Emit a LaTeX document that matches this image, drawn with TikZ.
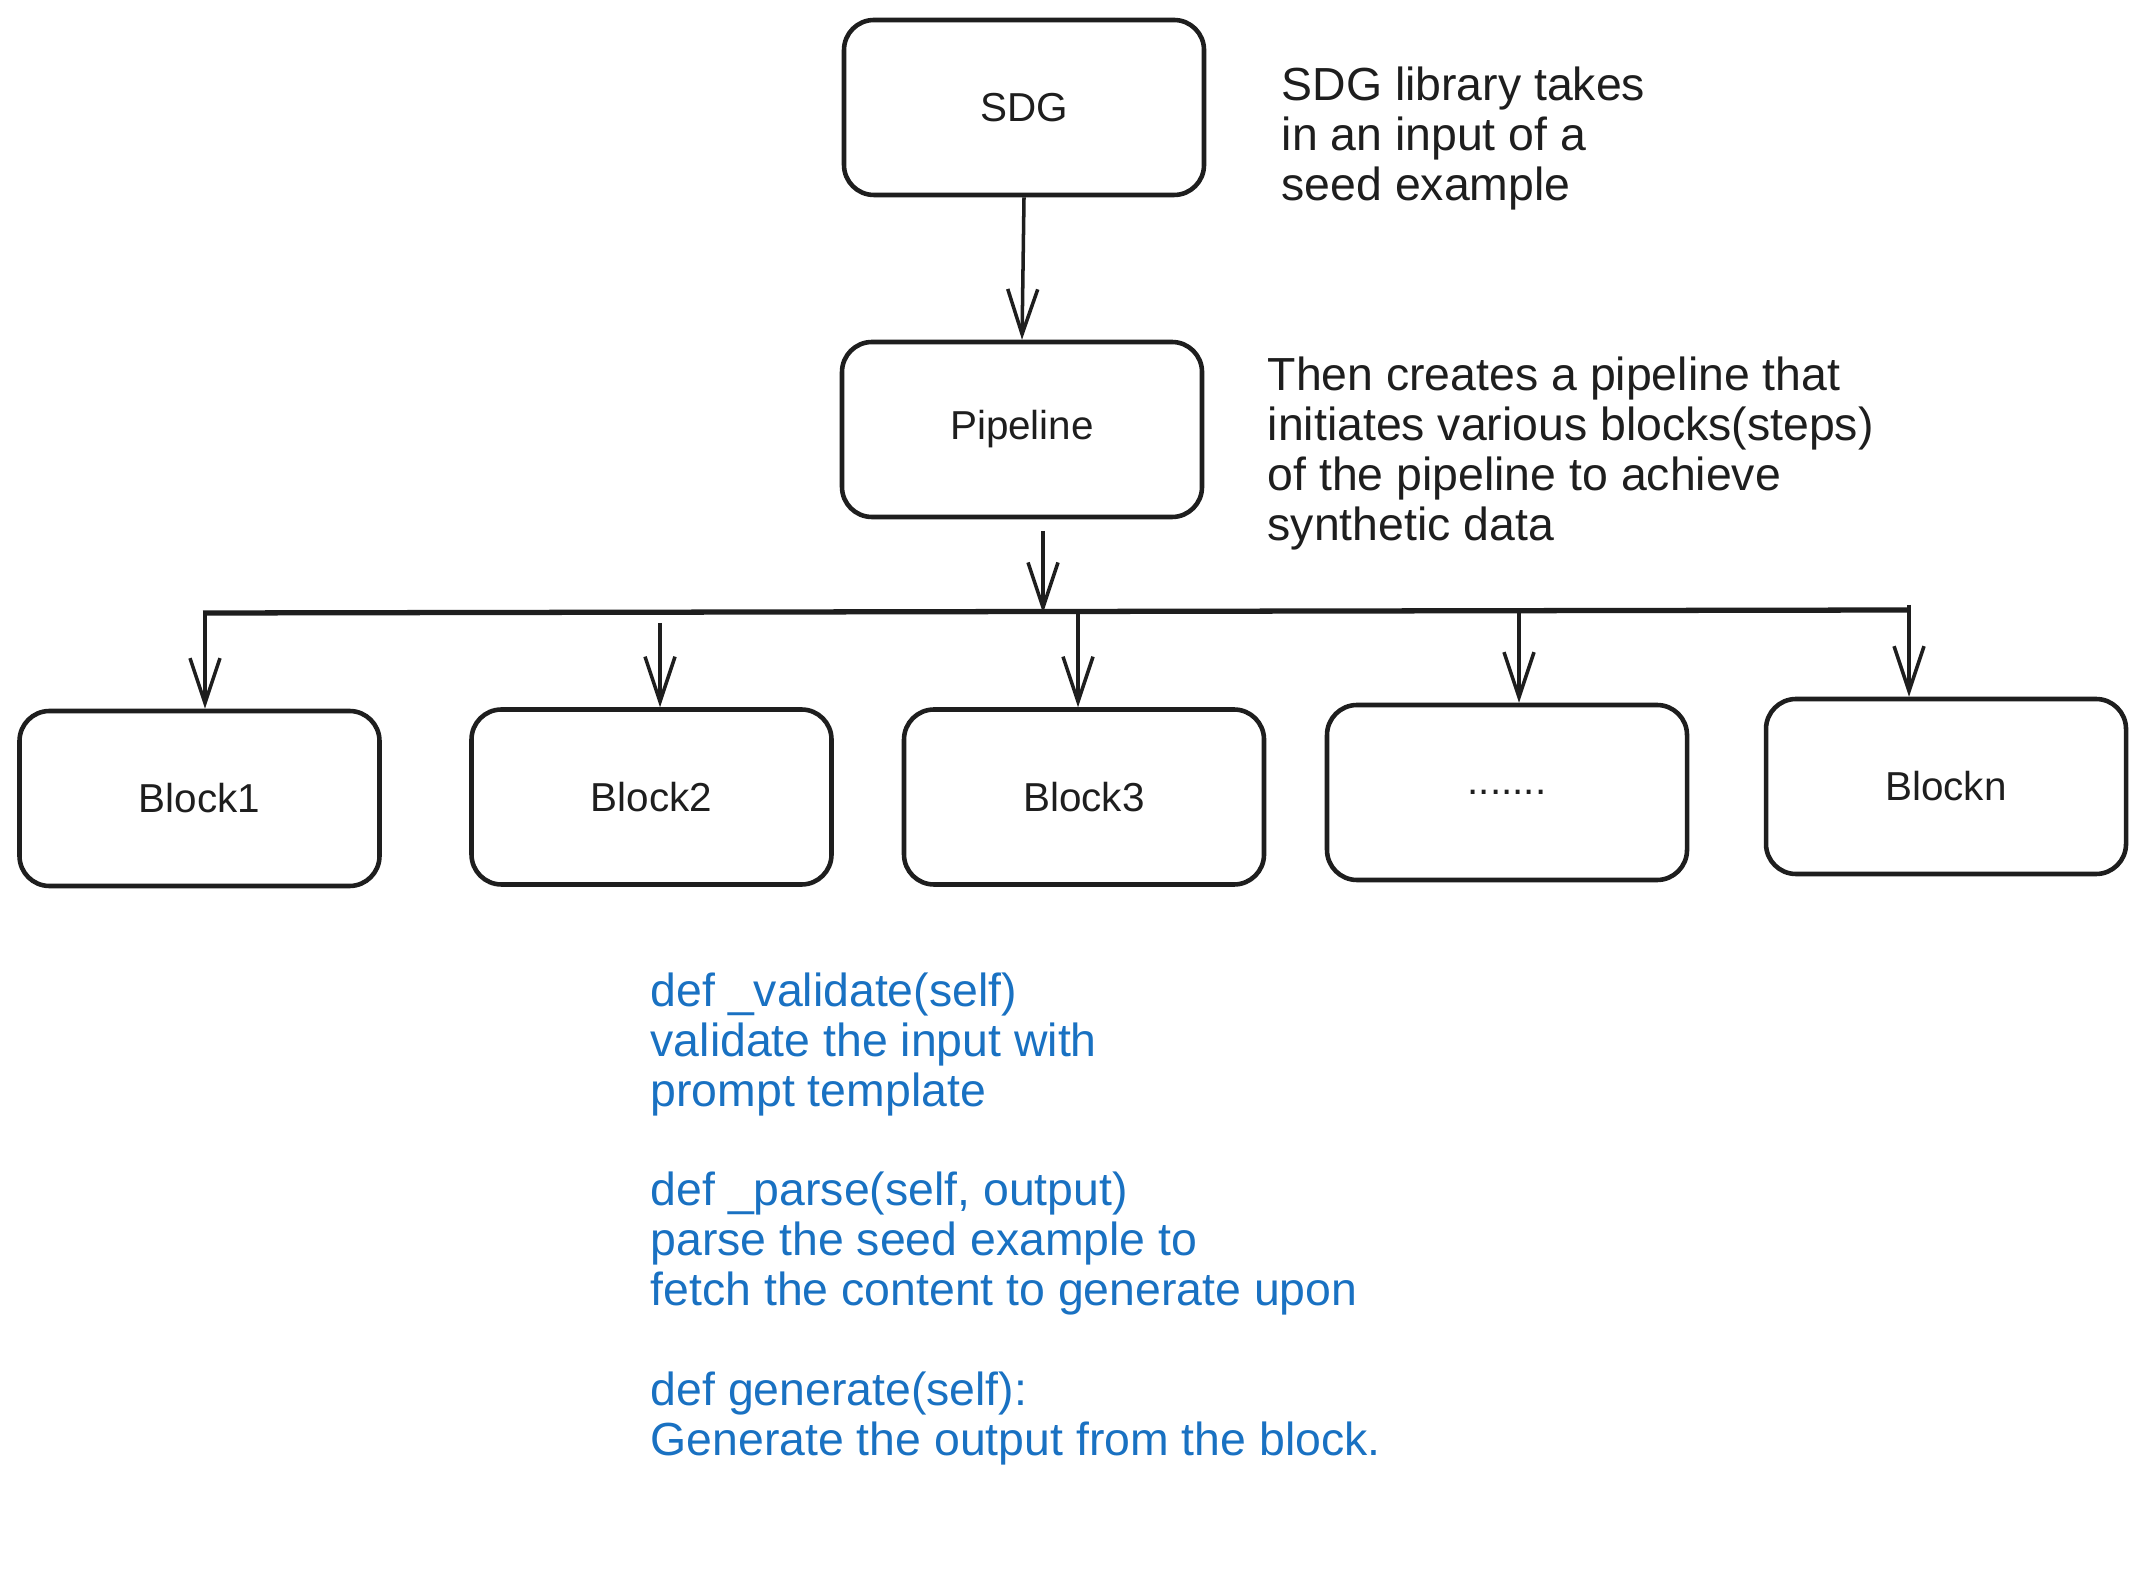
\documentclass[tikz,border=0pt]{standalone}
\usepackage{fontspec}
\setmainfont{Liberation Sans}
\usetikzlibrary{
  arrows.meta,
  positioning,
  backgrounds
}
\usepackage{xcolor}
\definecolor{mystroke}{HTML}{1E1E1E}
\definecolor{myblue}{HTML}{1971C2}

\begin{document}
\begin{tikzpicture}[
  my_box/.style={
    draw=mystroke,
    line width=1.3pt,
    rounded corners=0.3cm,
    minimum width=3.6cm,
    minimum height=1.75cm,
    inner sep=0pt,
    text=mystroke,
    font=\fontsize{11.5}{14.2}\selectfont,
  },
  my_arrow/.style={
    draw=mystroke,
    line width=1pt,
    -{Straight Barb[length=4.5mm, width=3mm, line width=1pt]},
  },
  my_note/.style={
    anchor=north west,
    inner sep=0pt,
    align=left,
    text=mystroke,
    font=\fontsize{13.2}{14.2}\selectfont,
  }
  ]

  \path[use as bounding box] (0,0) rectangle (21.46,-15.86);

  \begin{scope}[on background layer]
    \fill[white] (current bounding box.south west) rectangle (current bounding box.north east);
  \end{scope}

  \node[my_box] (sdg) at (10.24,-1.075) {SDG};
  \node[my_box] (pipeline) at (10.22,-4.295) {Pipeline};

  \node[my_box] (block1) at (1.995,-7.985) {Block1};
  \node[my_box] (block2) at (6.515,-7.97) {Block2};
  \node[my_box] (block3) at (10.84,-7.97) {Block3};
  \node[my_box] (block4) at (15.07,-7.925) {.......};
  \node[my_box] (blockn) at (19.46,-7.865) {Blockn};

  \node[my_note] (sdgnote) at (12.81,-0.66) {SDG library takes\\in an input of a\\seed example};
  \node[my_note] (pipenote) at (12.67,-3.56) {Then creates a pipeline that\\initiates various blocks(steps)\\of the pipeline to achieve\\synthetic data};

  \node[my_note, text=myblue] (methods) at (6.5,-9.72) {def \_validate(self)\\validate the input with\\prompt template\\[14.2pt]
    def \_parse(self, output)\\parse the seed example to\\fetch the content to generate upon\\[14.2pt]
    def generate(self):\\Generate the output from the block.};

  \draw[my_arrow] (sdg.south) -- (pipeline.north);

  \coordinate (pipeout) at (10.43,-5.31);
  \coordinate (busleft) at (2.03,-6.13);
  \coordinate (busright) at (19.08,-6.10);
  \draw[my_arrow] (pipeout) -- (pipeout |- busleft);
  \draw[mystroke, line width=1.5pt] (busleft) -- (busright);

  \coordinate (tap1) at (2.05,-6.13);
  \coordinate (tap2) at (6.60,-6.23);
  \coordinate (tap3) at (10.78,-6.12);
  \coordinate (tap4) at (15.19,-6.11);
  \coordinate (tapn) at (19.09,-6.05);

  \foreach \i in {1,2,3,4,n} {
    \draw[my_arrow] (tap\i) -- (block\i.north -| tap\i);
  }

\end{tikzpicture}
\end{document}
